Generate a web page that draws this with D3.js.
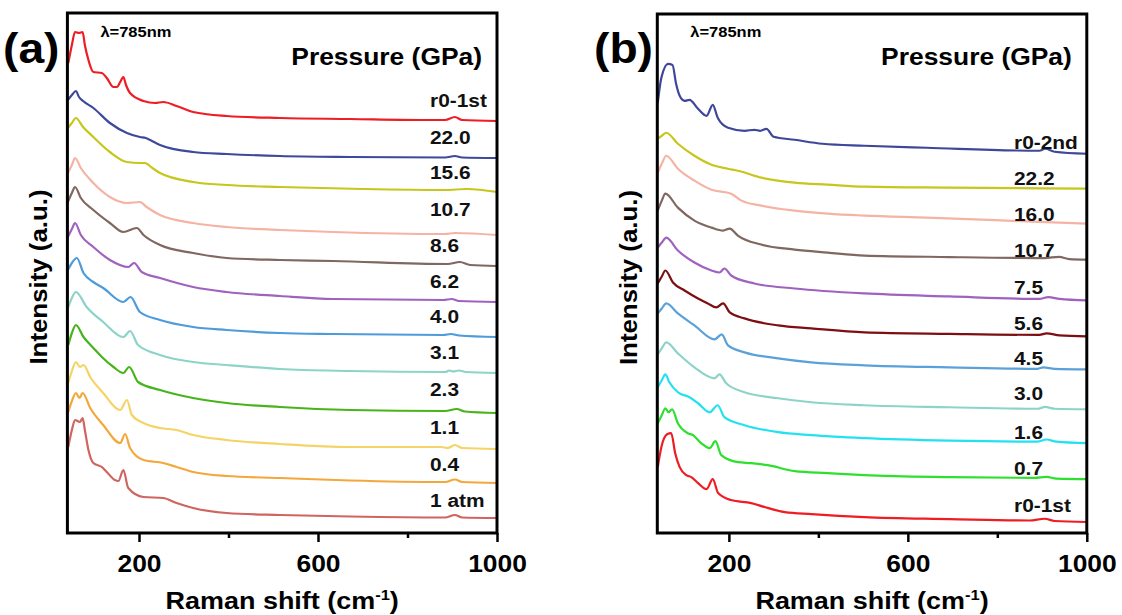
<!DOCTYPE html>
<html>
<head>
<meta charset="utf-8">
<script src="https://cdn.jsdelivr.net/npm/d3@7"></script>
<style>
  html, body { margin: 0; padding: 0; background: #fff; }
  svg { display: block; font-family: "Liberation Sans", Arial, Helvetica, sans-serif; font-weight: bold; }
</style>
</head>
<body>
<svg id="chart" width="1122" height="615"></svg>
<script>
// Stacked Raman spectra (785 nm excitation) under pressure.
// Each spectrum is a list of [Raman shift (cm-1), intensity (a.u., stacking offset included)].

// ---- panel (a): compression run ----
const a_r0_1st = [[42,470],[50,488],[57,501],[66,500],[74,501],[79,488],[87,473],[98,461],[117,460],[128,455],[143,446],[151,446],[158,451],[165,456],[171,448],[180,440],[210,432],[236,430],[254,431],[284,427],[321,421],[396,417],[515,415],[672,414],[828,413],[884,413],[906,416],[922,413],[1000,412]];
const a_22_0 = [[41,433],[50,438],[59,442],[66,436],[75,432],[98,425],[135,410],[173,400],[202,396],[215,395],[225,393],[247,388],[321,381],[396,379],[515,377],[672,376],[884,375.5],[906,377],[922,375.5],[1000,375]];
const a_15_6 = [[41,405],[50,410],[59,415],[75,406],[98,396],[135,381],[173,371],[202,370],[213,370],[230,365],[247,360],[321,351],[396,348],[515,346],[700,344],[884,343],[933,344],[1000,341]];
const a_10_7 = [[41,360],[50,368],[57,375],[70,365],[98,350],[135,336],[173,330],[202,331],[217,326],[247,318],[321,310],[396,306],[515,303],[634,301],[884,299],[906,300],[1000,298]];
const a_8_6 = [[41,331],[50,340],[57,346],[70,335],[98,323],[135,310],[165,301],[195,305],[210,298],[247,288],[321,280],[396,275],[515,273],[634,272],[890,269],[917,271],[940,268],[1000,267]];
const a_6_2 = [[41,296],[50,304],[57,310],[70,298],[98,286],[135,273],[176,266],[189,270],[206,261],[247,255],[321,246],[396,241],[515,237],[634,234],[880,233],[899,234],[915,232],[1000,231]];
const a_4_0 = [[41,263],[50,270],[61,275],[76,260],[98,251],[120,245],[165,231],[181,236],[202,221],[247,213],[321,206],[396,203],[515,200],[634,199],[880,198],[897,199],[915,197.5],[1000,196]];
const a_3_1 = [[42,226],[50,235],[59,241],[83,226],[120,211],[165,196],[180,202],[198,188],[247,178],[321,171],[396,168],[515,164],[672,162],[885,161],[893,162.5],[902,161.5],[915,162.5],[930,161],[1000,160]];
const a_2_3 = [[42,188],[50,200],[59,208],[76,196],[98,185],[117,176],[143,166],[165,160],[178,166],[198,151],[247,143],[321,135],[396,130],[515,126],[672,123],[884,122],[910,124],[928,121.5],[1000,120]];
const a_1_1 = [[42,150],[50,162],[59,171],[68,166],[76,168],[91,156],[120,140],[158,123],[173,133],[184,118],[210,110],[247,105],[284,103],[321,98],[396,93],[515,89],[672,86],[876,86],[890,85],[906,88],[922,85],[1000,84]];
const a_0_4 = [[42,121],[50,132],[59,140],[67,135],[74,140],[91,125],[120,108],[158,90],[169,99],[180,85],[210,73],[254,70],[284,66],[321,61],[396,57],[515,55],[672,52.5],[884,51],[906,53.5],[922,51],[1000,50]];
const a_1atm = [[42,86],[50,103],[57,113],[68,111],[74,115],[79,103],[87,83],[98,70],[117,66],[128,61],[146,53],[154,52],[165,63],[176,45],[210,36],[254,35],[284,30],[321,25],[396,20],[515,18],[672,16.5],[884,15.5],[906,18],[922,15.5],[1000,15]];

const labelsA = ["r0-1st", "22.0", "15.6", "10.7", "8.6", "6.2", "4.0", "3.1", "2.3", "1.1", "0.4", "1 atm"];
const colorsA = ["#ee1d23", "#3d4a9c", "#c6c61c", "#f5b3a4", "#80675f", "#a062bf", "#4d9bdb", "#8dd4c8", "#48b41b", "#f4d466", "#f4a83c", "#cf6560"];
const spectraA = [a_r0_1st, a_22_0, a_15_6, a_10_7, a_8_6, a_6_2, a_4_0, a_3_1, a_2_3, a_1_1, a_0_4, a_1atm];

// ---- panel (b): second compression run ----
const b_r0_2nd = [[41,431],[49,456],[64,470],[74,469],[82,450],[90,438],[101,433],[112,434],[131,425],[150,418],[164,429],[175,416],[198,406],[235,403],[257,404],[270,403],[284,405],[300,397],[347,394],[409,390],[503,388],[642,386],[894,383],[907,385],[928,382],[1000,380]];
const b_22_2 = [[41,395],[50,398],[60,401],[86,390],[123,378],[161,369],[198,365],[220,363],[273,356],[347,351],[421,349],[503,347],[693,346],[1000,345]];
const b_16_0 = [[41,361],[50,370],[60,378],[86,365],[123,353],[161,344],[205,340],[228,333],[272,328],[347,323],[421,320],[503,318],[642,316],[877,312],[1000,310]];
const b_10_7 = [[41,323],[50,333],[58,340],[86,326],[123,313],[161,306],[187,303],[202,305],[220,298],[272,289],[347,284],[421,281],[503,278],[693,276.5],[906,275.5],[938,276.7],[961,274.5],[1000,274]];
const b_7_5 = [[41,286],[50,291],[60,296],[86,283],[123,271],[161,263],[179,261],[190,265],[205,258],[257,250],[347,245],[503,240],[693,237],[894,234.5],[914,236.3],[939,234.5],[1000,233]];
const b_5_6 = [[41,250],[50,257],[58,263],[75,251],[101,243],[131,235],[153,230],[172,226],[187,230],[202,221],[235,215],[310,208],[384,205],[503,201],[693,199.5],[894,198.5],[910,200],[939,198],[1000,197]];
const b_4_5 = [[41,220],[50,225],[60,230],[86,220],[123,208],[168,194],[184,199],[198,188],[235,181],[310,175],[384,171],[503,168],[693,166],[890,164.5],[903,166],[928,164.5],[1000,164]];
const b_3_0 = [[41,179],[50,185],[60,191],[86,180],[123,166],[168,155],[179,159],[194,150],[235,141],[310,135],[384,131],[503,128],[693,126],[890,124.5],[907,126.3],[928,124.5],[1000,124]];
const b_1_6 = [[41,146],[50,153],[58,159],[67,151],[86,141],[112,136],[131,130],[157,121],[175,128],[190,116],[235,108],[310,101],[384,98],[503,95],[693,92.5],[890,91.5],[910,93.7],[932,91.5],[1000,90]];
const b_0_7 = [[41,110],[50,118],[58,125],[65,121],[73,124],[86,110],[108,100],[120,98],[138,90],[157,85],[170,92],[183,78],[220,71],[250,70],[287,68],[347,62],[421,60],[503,58],[693,56],[883,55.2],[910,56.2],[932,54.5],[1000,54]];
const b_r0_1st = [[41,66],[49,86],[62,99],[71,100],[80,80],[90,66],[105,58],[116,56],[131,50],[150,44],[164,54],[176,40],[205,33],[250,30],[280,26],[325,21],[385,19],[503,16],[693,14],[872,12.5],[906,14.3],[928,12],[1000,11]];

const labelsB = ["r0-2nd", "22.2", "16.0", "10.7", "7.5", "5.6", "4.5", "3.0", "1.6", "0.7", "r0-1st"];
const colorsB = ["#3e4799", "#c6c61c", "#f5b3a4", "#80675f", "#a062bf", "#7d0e12", "#5aa1da", "#8dd4c8", "#22e2f2", "#2de02d", "#ee1d23"];
const spectraB = [b_r0_2nd, b_22_2, b_16_0, b_10_7, b_7_5, b_5_6, b_4_5, b_3_0, b_1_6, b_0_7, b_r0_1st];

// ---- axes ----
const xDomain = [40, 1000];
const yDomain = [0, 520];
const xMajorTicks = [200, 600, 1000];
const xMinorTicks = [400, 800];

// layout: vertical gap (px) between each spectrum's right end and its label baseline
const labelGapA = [13.7, 14.3, 12.7, 19, 13.7, 14.3, 13.7, 14, 16.7, 15.3, 11.7, 11.3];
const labelGapB = [5, 3.3, 2.7, 2.3, 6.7, 6.7, 4.3, 9.3, 4.4, 4.3, 10.5];

// the figure's lettering is slightly wide; stretch glyphs horizontally
const TEXT_STRETCH = 1.1;

const svg = d3.select("#chart");

// text anchored at (x, y), optionally rotated, stretched along its own direction
function addText(parent, x, y, size, str, opts = {}) {
  const rot = opts.rotate ? ` rotate(${opts.rotate})` : "";
  return parent.append("text")
    .attr("transform", `translate(${x},${y})${rot} scale(${TEXT_STRETCH},1)`)
    .attr("text-anchor", opts.anchor || "start")
    .attr("font-size", size)
    .attr("fill", opts.fill || "#000")
    .text(str);
}

function drawPanel(cfg) {
  const { left, right, top, bottom } = cfg;
  const x = d3.scaleLinear().domain(xDomain).range([left, right]);
  const y = d3.scaleLinear().domain(yDomain).range([bottom, top]);
  const g = svg.append("g");

  const line = d3.line()
    .x(d => x(d[0]))
    .y(d => y(d[1]))
    .curve(d3.curveMonotoneX);

  g.append("g").selectAll("path")
    .data(cfg.spectra)
    .join("path")
    .attr("d", line)
    .attr("fill", "none")
    .attr("stroke", (d, i) => cfg.colors[i])
    .attr("stroke-width", 2.2)
    .attr("stroke-linejoin", "round");

  // pressure labels above the right end of each spectrum
  const labelG = g.append("g");
  cfg.spectra.forEach((d, i) => {
    addText(labelG, cfg.labelX, y(d[d.length - 1][1]) - cfg.labelGaps[i], 19, cfg.labels[i], { fill: "#111" });
  });

  // bottom axis: labelled major ticks and short minor ticks
  const major = g.append("g")
    .attr("transform", `translate(0,${bottom})`)
    .call(d3.axisBottom(x).tickValues(xMajorTicks).tickFormat(d3.format("d"))
      .tickSizeInner(9).tickSizeOuter(0).tickPadding(13));
  major.select(".domain").remove();
  major.selectAll("line").attr("stroke", "#000").attr("stroke-width", 2.5);
  major.selectAll("text")
    .attr("font-size", 24).attr("font-family", null).attr("fill", "#000")
    .attr("transform", `scale(${TEXT_STRETCH},1)`);

  const minor = g.append("g")
    .attr("transform", `translate(0,${bottom})`)
    .call(d3.axisBottom(x).tickValues(xMinorTicks).tickFormat("").tickSizeInner(5).tickSizeOuter(0));
  minor.select(".domain").remove();
  minor.selectAll("line").attr("stroke", "#000").attr("stroke-width", 2.5);

  // frame
  g.append("rect")
    .attr("x", left).attr("y", top)
    .attr("width", right - left).attr("height", bottom - top)
    .attr("fill", "none").attr("stroke", "#000").attr("stroke-width", 3);

  // axis titles
  addText(g, (left + right) / 2, 609, 24.5, "", { anchor: "middle" })
    .html('Raman shift (cm<tspan dy="-9" font-size="15">-1</tspan><tspan dy="9">)</tspan>');

  addText(g, cfg.yTitleX, (top + bottom) / 2 + 4, 23.5, "Intensity (a.u.)", { anchor: "middle", rotate: -90 });

  // panel tag, excitation wavelength, legend heading
  addText(g, cfg.tagX, 63, 42, cfg.tag);
  addText(g, left + 33, 37, 15, "λ=785nm");
  addText(g, right - 15, 65, 24, "Pressure (GPa)", { anchor: "end" });
}

drawPanel({
  left: 67.4, right: 497, top: 13, bottom: 533,
  spectra: spectraA, colors: colorsA, labels: labelsA, labelGaps: labelGapA,
  labelX: 430, yTitleX: 47, tag: "(a)", tagX: 3
});

drawPanel({
  left: 657.3, right: 1086.8, top: 14, bottom: 533,
  spectra: spectraB, colors: colorsB, labels: labelsB, labelGaps: labelGapB,
  labelX: 1014, yTitleX: 637, tag: "(b)", tagX: 594
});
</script>
</body>
</html>
